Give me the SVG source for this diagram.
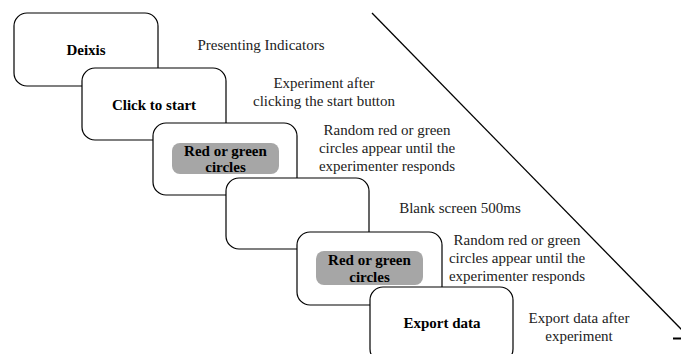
<svg xmlns="http://www.w3.org/2000/svg" width="681" height="354" viewBox="0 0 681 354" font-family="'Liberation Serif', serif" font-size="15">
<style>
.box{fill:#fff;stroke:#000;stroke-width:1.2}
.pill{fill:#a6a6a6;stroke:none}
.b{font-weight:bold;text-anchor:middle;fill:#000}
.t{text-anchor:middle;fill:#222}
</style>
<rect width="681" height="354" fill="#fff"/>
<g id="connectors">
<line x1="372" y1="13" x2="682" y2="330" stroke="#000" stroke-width="1.3"/>
<line x1="673" y1="338.5" x2="681" y2="338.5" stroke="#000" stroke-width="2"/>
</g>
<g id="node-deixis">
<rect class="box" x="14" y="13" width="144" height="73" rx="13"/>
<text class="b" font-family="'Liberation Serif', serif" x="86" y="55">Deixis</text>
</g>
<text class="t" font-family="'Liberation Serif', serif" x="261" y="50">Presenting Indicators</text>
<g id="node-click">
<rect class="box" x="82" y="68" width="144" height="72" rx="13"/>
<text class="b" font-family="'Liberation Serif', serif" x="154" y="110">Click to start</text>
</g>
<text class="t" font-family="'Liberation Serif', serif" x="324" y="88">Experiment after</text>
<text class="t" font-family="'Liberation Serif', serif" x="324" y="106">clicking the start button</text>
<g id="node-circles1">
<rect class="box" x="153" y="123" width="144" height="72" rx="13"/>
<rect class="pill" x="172" y="143" width="107" height="31" rx="8"/>
<text class="b" font-family="'Liberation Serif', serif" x="225.5" y="156">Red or green</text>
<text class="b" font-family="'Liberation Serif', serif" x="225.5" y="172">circles</text>
</g>
<text class="t" font-family="'Liberation Serif', serif" x="387" y="135">Random red or green</text>
<text class="t" font-family="'Liberation Serif', serif" x="387" y="153">circles appear until the</text>
<text class="t" font-family="'Liberation Serif', serif" x="387" y="171">experimenter responds</text>
<g id="node-blank">
<rect class="box" x="226" y="178" width="143" height="71" rx="13"/>
</g>
<text class="t" font-family="'Liberation Serif', serif" x="460" y="213">Blank screen 500ms</text>
<g id="node-circles2">
<rect class="box" x="297" y="232" width="145" height="73" rx="13"/>
<rect class="pill" x="316" y="251" width="107" height="34" rx="8"/>
<text class="b" font-family="'Liberation Serif', serif" x="369.5" y="265">Red or green</text>
<text class="b" font-family="'Liberation Serif', serif" x="369.5" y="282">circles</text>
</g>
<text class="t" font-family="'Liberation Serif', serif" x="517" y="245">Random red or green</text>
<text class="t" font-family="'Liberation Serif', serif" x="517" y="263">circles appear until the</text>
<text class="t" font-family="'Liberation Serif', serif" x="517" y="281">experimenter responds</text>
<g id="node-export">
<rect class="box" x="370" y="287" width="143" height="75" rx="13"/>
<text class="b" font-family="'Liberation Serif', serif" x="442" y="328">Export data</text>
</g>
<text class="t" font-family="'Liberation Serif', serif" x="579" y="323">Export data after</text>
<text class="t" font-family="'Liberation Serif', serif" x="579" y="341">experiment</text>
</svg>
